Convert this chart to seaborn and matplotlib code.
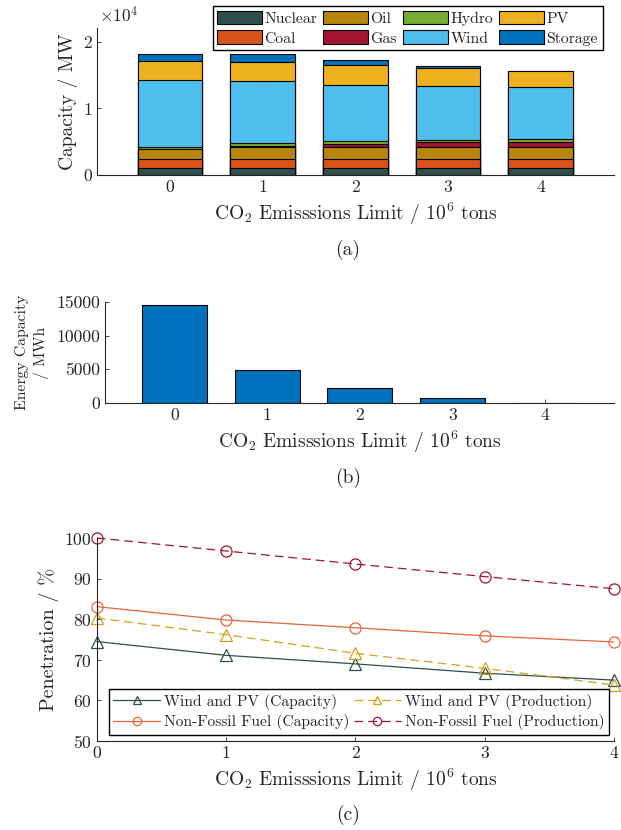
import numpy as np
import pandas as pd
import seaborn as sns
import matplotlib.pyplot as plt
from matplotlib.patches import Patch

sns.set_style("ticks")
plt.rcParams['font.family'] = ['cmr10', 'DejaVu Serif']
plt.rcParams['mathtext.fontset'] = 'cm'
plt.rcParams['axes.unicode_minus'] = False
plt.rcParams['axes.formatter.use_mathtext'] = True
plt.rcParams['xtick.direction'] = 'in'
plt.rcParams['ytick.direction'] = 'in'

limits = ["0", "1", "2", "3", "4"]
xlab = r"CO$_2$ Emisssions Limit / 10$^6$ tons"

# (a) installed capacity per technology, MW
sources = ["Nuclear", "Coal", "Oil", "Gas", "Hydro", "Wind", "PV", "Storage"]
nuclear = [1100, 1100, 1100, 1100, 1100]
coal = [1250, 1250, 1250, 1250, 1250]
oil = [1560, 1910, 1910, 1910, 1910]
gas = [0, 150, 450, 650, 750]
hydro = [250, 350, 350, 350, 400]
wind = [10100, 9310, 8510, 8160, 7730]
pv = [2760, 2910, 2910, 2560, 2420]
storage = [1160, 1160, 810, 310, 0]
src_colors = ["#2F4F4F", "#D95319", "#B8860B", "#A2142F",
              "#77AC30", "#4DBEEE", "#EDB120", "#0072BD"]

# (b) storage energy capacity, MWh
energy = [14550, 4920, 2240, 700, 50]

# (c) penetration, %
wpv_cap = [74.5, 71.1, 69.0, 66.7, 65.0]
wpv_prod = [80.3, 76.2, 71.6, 67.9, 63.8]
nff_cap = [83.1, 79.8, 77.9, 75.9, 74.4]
nff_prod = [100.0, 96.8, 93.6, 90.5, 87.5]

fig = plt.figure(figsize=(6.21, 8.3), dpi=100)
ax_a = fig.add_axes([0.156, 0.789, 0.8325, 0.177])
ax_b = fig.add_axes([0.169, 0.5145, 0.8196, 0.1217])
ax_c = fig.add_axes([0.156, 0.1072, 0.8325, 0.2446])

LABEL_FS = 14
TICK_FS = 12.7

# ---- (a) stacked bars, drawn as cumulative totals from the top down
cap = pd.DataFrame({"limit": limits, "Nuclear": nuclear, "Coal": coal, "Oil": oil,
                    "Gas": gas, "Hydro": hydro, "Wind": wind, "PV": pv,
                    "Storage": storage})
cum = cap[sources].cumsum(axis=1)
for src, col in reversed(list(zip(sources, src_colors))):
    sns.barplot(x=cap["limit"], y=cum[src], color=col, width=0.7,
                edgecolor="black", linewidth=0.8, saturation=1, ax=ax_a)
ax_a.set_xlim(-0.79, 4.79)
ax_a.set_ylim(0, 22000)
ax_a.set_yticks([0, 10000, 20000])
ax_a.set_yticklabels(["0", "1", "2"])
ax_a.text(0.005, 1.02, r"$\times10^4$", transform=ax_a.transAxes, fontsize=12.5,
          va="bottom", ha="left")
ax_a.set_ylabel("Capacity / MW", fontsize=LABEL_FS)
ax_a.set_xlabel(xlab, fontsize=LABEL_FS)
handles = [Patch(facecolor=c, edgecolor="black", linewidth=0.8) for c in src_colors]
ax_a.legend(handles, sources, ncol=4, loc="lower left", bbox_to_anchor=(0.224, 0.85),
            borderaxespad=0, fontsize=11.3, fancybox=False, edgecolor="black",
            framealpha=1, handlelength=2.85, handleheight=0.95, handletextpad=0.15,
            columnspacing=0.4, borderpad=0.3, labelspacing=0.3)

# ---- (b) energy capacity
sns.barplot(x=limits, y=energy, color="#0072BD", width=0.7, saturation=1,
            edgecolor="black", linewidth=0.8, ax=ax_b)
ax_b.set_xlim(-0.75, 4.74)
ax_b.set_ylim(0, 15000)
ax_b.set_yticks([0, 5000, 10000, 15000])
ax_b.set_yticklabels(["0", "5000", "10000", "15000"])
ax_b.set_ylabel("Energy Capacity\n/ MWh", fontsize=11.3, labelpad=5, linespacing=1.4)
ax_b.set_xlabel(xlab, fontsize=LABEL_FS)

# ---- (c) penetration lines
xs = np.arange(len(limits))
dash = (0, (7, 4))
lines = [
    (wpv_cap, "Wind and PV (Capacity)", "#2F4F4F", "-", "^"),
    (nff_cap, "Non-Fossil Fuel (Capacity)", "#E8643A", "-", "o"),
    (wpv_prod, "Wind and PV (Production)", "#D4A017", dash, "^"),
    (nff_prod, "Non-Fossil Fuel (Production)", "#A2142F", dash, "o"),
]
for vals, lab, col, ls, mk in lines:
    sns.lineplot(x=xs, y=vals, color=col, linestyle=ls, marker=mk, markersize=8,
                 markerfacecolor="none", markeredgecolor=col, markeredgewidth=0.9,
                 linewidth=0.9, label=lab, clip_on=False, ax=ax_c)
ax_c.set_xlim(0, 4)
ax_c.set_ylim(50, 100)
ax_c.set_xticks(xs)
ax_c.set_xticklabels(limits)
ax_c.set_yticks([50, 60, 70, 80, 90, 100])
ax_c.set_ylabel("Penetration / %", fontsize=14.5)
ax_c.set_xlabel(xlab, fontsize=LABEL_FS)
ax_c.legend(ncol=2, loc="lower left", bbox_to_anchor=(0.023, 0.03), borderaxespad=0,
            fontsize=11.2, fancybox=False, edgecolor="black", framealpha=1,
            handlelength=3.0, markerscale=0.75, handletextpad=0.25,
            columnspacing=0.3, borderpad=0.3, labelspacing=0.3)

for ax in (ax_a, ax_b, ax_c):
    sns.despine(ax=ax)
    ax.tick_params(labelsize=TICK_FS, length=3, width=0.6)
    for s in ("left", "bottom"):
        ax.spines[s].set_linewidth(0.8)
        ax.spines[s].set_color("#262626")

fig.text(0.56, 1 - 250 / 830, "(a)", ha="center", va="center", fontsize=14)
fig.text(0.56, 1 - 478 / 830, "(b)", ha="center", va="center", fontsize=14)
fig.text(0.56, 1 - 815 / 830, "(c)", ha="center", va="center", fontsize=14)

fig.savefig("out.png", dpi=100)
